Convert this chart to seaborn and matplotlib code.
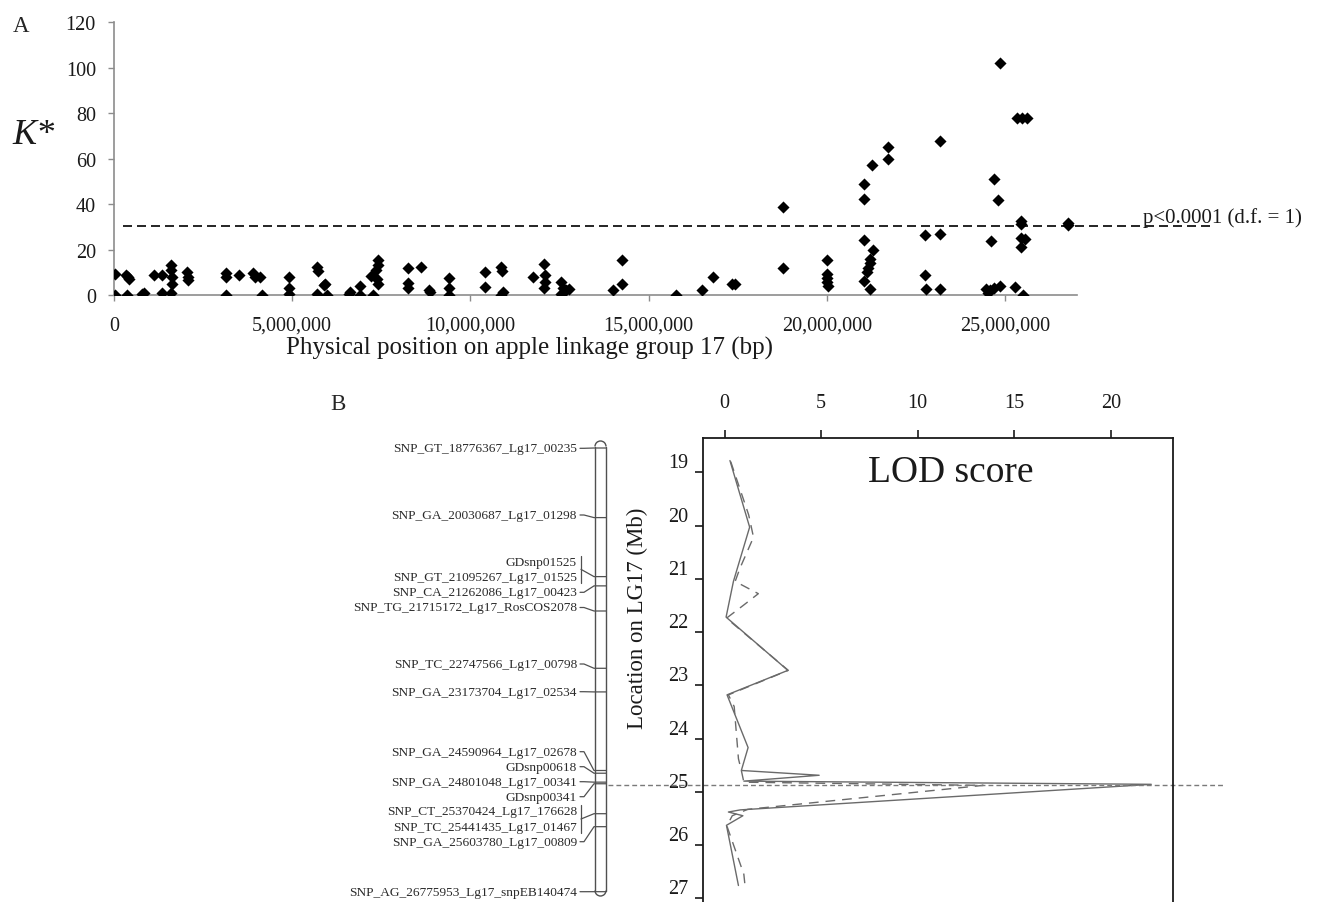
import matplotlib
matplotlib.use("Agg")
import matplotlib.pyplot as plt
from matplotlib.patches import Arc
import numpy as np
import seaborn as sns

# ---- Panel A: K* along linkage group 17 (position in Mb) ----
pos_mb = [
    0.03, 0.03,
    0.35, 0.40, 0.42, 0.37,
    0.78, 0.85,
    1.12, 1.35, 1.35,
    1.60, 1.60, 1.62, 1.64, 1.60,
    2.05, 2.07, 2.07,
    3.14, 3.14, 3.14,
    3.50, 3.90, 3.95, 4.10, 4.16,
    4.90, 4.90, 4.90,
    5.70, 5.72, 5.70,
    5.88, 5.93, 5.98,
    6.58, 6.62,
    6.90, 6.90,
    7.20, 7.28, 7.35, 7.40, 7.40, 7.38, 7.42,
    8.24, 8.24, 8.24, 8.60, 8.83, 8.88,
    9.40, 9.40, 9.40,
    10.40, 10.40,
    10.86, 10.90, 10.92, 10.86,
    11.76,
    12.06, 12.10, 12.08, 12.06,
    12.55, 12.55, 12.60, 12.67, 12.76,
    14.00, 14.26, 14.26,
    15.76, 16.50, 16.80, 17.35, 17.42,
    18.78, 18.78,
    20.00, 20.00, 20.00, 20.00, 20.02,
    21.04, 21.04, 21.26, 21.04, 21.30, 21.22, 21.22, 21.16, 21.12, 21.04, 21.22,
    21.73, 21.71,
    22.75, 22.75, 22.78,
    23.18, 23.18, 23.18,
    24.48, 24.52, 24.60, 24.58, 24.68, 24.86, 24.70, 24.79, 24.86,
    25.28, 25.35, 25.47, 25.61,
    25.44, 25.44, 25.44, 25.44, 25.57, 25.50,
    26.78, 26.78,
]
kstar = [
    9.2, 0,
    9, 8, 7, 0,
    0.5, 0.8,
    9, 9, 1,
    13, 11, 8, 5, 1,
    10, 8, 6.6,
    9.7, 8, 0,
    9, 9.7, 8, 8, 0,
    8, 3, 0.5,
    12.4, 10.6, 0.5,
    4.5, 5, 0,
    0.5, 1.5,
    4, 0,
    8.5, 0, 11, 13, 15.2, 7, 5,
    12, 5.4, 3, 12.4, 2, 1.5,
    7.5, 3, 0,
    10, 3.3,
    12.3, 10.5, 1.5, 0,
    8,
    13.5, 9, 5.5, 3,
    5.5, 0.5, 3, 2, 2.5,
    2, 15.5, 4.8,
    0, 2, 7.7, 5, 4.7,
    38.9, 12,
    15.5, 9.4, 7.5, 5.7, 4,
    48.9, 42.3, 57, 24, 19.6, 16, 14, 12, 10, 6, 2.5,
    65, 60,
    26.4, 8.8, 2.6,
    67.5, 27, 2.6,
    2.5, 1, 23.8, 2, 3, 4, 51, 41.6, 101.8,
    3.5, 77.8, 77.8, 77.8,
    32.5, 31, 21.3, 25, 24.5, 0,
    30.8, 31.5,
]
kstar_threshold = 30.4
xticks_bp = [0, 5000000, 10000000, 15000000, 20000000, 25000000]

# ---- Panel B: LOD profiles (LOD vs location in Mb) ----
lod_solid = [0.28, 1.3, 0.46, 0.08, 3.28, 0.13, 1.22, 0.87, 4.9, 1.0, 22.1, 0.82, 0.2, 0.95, 0.1, 0.72]
mb_solid = [18.78, 20.03, 21.05, 21.72, 22.72, 23.18, 24.17, 24.60, 24.69, 24.80, 24.86, 25.34, 25.38, 25.45, 25.63, 26.76]
lod_dash = [0.32, 1.25, 1.5, 0.8, 0.55, 1.75, 0.97, 0.1, 3.3, 0.2, 0.5, 0.72, 0.87, 1.0, 13.4, 1.2, 0.4, 0.12, 1.0, 1.06]
mb_dash = [18.80, 19.80, 20.22, 20.80, 21.05, 21.28, 21.50, 21.74, 22.72, 23.18, 23.40, 24.38, 24.60, 24.82, 24.88, 25.33, 25.45, 25.64, 26.55, 26.76]
qtl_peak_mb = 24.88

markers = [
    "SNP_GT_18776367_Lg17_00235", "SNP_GA_20030687_Lg17_01298", "GDsnp01525",
    "SNP_GT_21095267_Lg17_01525", "SNP_CA_21262086_Lg17_00423",
    "SNP_TG_21715172_Lg17_RosCOS2078", "SNP_TC_22747566_Lg17_00798",
    "SNP_GA_23173704_Lg17_02534", "SNP_GA_24590964_Lg17_02678", "GDsnp00618",
    "SNP_GA_24801048_Lg17_00341", "GDsnp00341", "SNP_CT_25370424_Lg17_176628",
    "SNP_TC_25441435_Lg17_01467", "SNP_GA_25603780_Lg17_00809",
    "SNP_AG_26775953_Lg17_snpEB140474",
]
marker_mb = [18.776, 20.031, 21.095, 21.095, 21.262, 21.715, 22.748, 23.174,
             24.591, 24.64, 24.801, 24.83, 25.370, 25.441, 25.604, 26.776]
bracket_groups = [(2, 3), (12, 13)]
# label heights on the map (pixels of the original figure)
label_px = [449.3, 516, 562.7, 578, 593.3, 608.5, 665, 692.7, 752.7, 767.7,
            782.7, 797.7, 812.3, 827.7, 842.7, 892.7]

W, H = 1338, 903
def fx(px):
    return px / W
def fy(py):
    return 1 - py / H

sns.set_style("ticks")
plt.rcParams["font.family"] = ["Liberation Serif", "DejaVu Serif"]

fig = plt.figure(figsize=(W / 100, H / 100), dpi=100)

# ---------------- Panel A ----------------
axA = fig.add_axes([fx(114), fy(296), (1077 - 114) / W, (296 - 23) / H])
sns.scatterplot(x=np.array(pos_mb) * 1e6, y=kstar, marker="D", s=38,
                color="black", linewidth=0, ax=axA, zorder=3)
axA.set_xlim(0, 27.02e6)
axA.set_ylim(0, 120)
axA.set_xticks(xticks_bp)
axA.set_xticklabels([f"{v:,}" for v in xticks_bp])
axA.set_yticks(range(0, 121, 20))
for side in ["top", "right"]:
    axA.spines[side].set_visible(False)
for side in ["left", "bottom"]:
    axA.spines[side].set_color("#8c8c8c")
    axA.spines[side].set_linewidth(1.2)
axA.tick_params(axis="both", colors="#8c8c8c", labelcolor="#1a1a1a",
                length=4, width=1, labelsize=14.5)
axA.tick_params(axis="y", pad=9)
axA.tick_params(axis="x", pad=11)
axA.set_xlabel("")
axA.set_ylabel("")
axA.plot([0.24e6, 30.8e6], [kstar_threshold] * 2, color="black", lw=1.2,
         ls=(0, (5.4, 3)), clip_on=False)
fig.text(fx(1143), fy(223), "p<0.0001 (d.f. = 1)", fontsize=15,
         ha="left", va="baseline", color="#1a1a1a")
fig.text(fx(530), fy(348), "Physical position on apple linkage group 17 (bp)",
         fontsize=18, ha="center", va="center", color="#1a1a1a")
fig.text(fx(34), fy(135), "K*", fontsize=26, style="italic",
         ha="center", va="center", color="#1a1a1a")
fig.text(fx(21), fy(26), "A", fontsize=16.5, ha="center", va="center")

# ---------------- Panel B: LOD plot ----------------
axL = fig.add_axes([fx(703.3), 0, (1172.5 - 703.3) / W, (903 - 439.3) / H])
sns.lineplot(x=lod_solid, y=mb_solid, sort=False, estimator=None,
             color="#6a6a6a", lw=1.0, ax=axL)
sns.lineplot(x=lod_dash, y=mb_dash, sort=False, estimator=None,
             color="#6a6a6a", lw=1.0, linestyle=(0, (7, 5)), ax=axL)
axL.set_xlim(-1.1, 23.2)
axL.set_ylim(27.07, 18.362)
axL.xaxis.tick_top()
axL.set_xticks([0, 5, 10, 15, 20])
axL.set_yticks(range(19, 28))
axL.spines["bottom"].set_visible(False)
for side in ["top", "left", "right"]:
    axL.spines[side].set_color("#1a1a1a")
    axL.spines[side].set_linewidth(1.3)
axL.tick_params(axis="x", top=True, bottom=False, length=6, width=1.2,
                pad=13, labelsize=14.5, colors="#1a1a1a")
axL.tick_params(axis="y", length=6, width=1.2, pad=5, labelsize=14.5,
                colors="#1a1a1a")
for lbl in axL.get_yticklabels():
    lbl.set_va("bottom")
axL.set_xlabel("")
axL.set_ylabel("")
axL.plot([-6.04, 25.93], [qtl_peak_mb] * 2, color="#7a7a7a", lw=1.0,
         ls=(0, (3.5, 2.2)), clip_on=False)
fig.text(fx(951), fy(473), "LOD score", fontsize=27, ha="center", va="center",
         color="#1a1a1a")
fig.text(fx(637), fy(618), "Location on LG17 (Mb)", fontsize=16.5,
         rotation=90, ha="center", va="center", color="#1a1a1a")
fig.text(fx(338), fy(405), "B", fontsize=16.5, ha="center", va="center")

# ---------------- Panel B: chromosome map ----------------
def map_mb(px):
    return 18.776 + (px - 449) / 55.46

axC = fig.add_axes([fx(380), 0, (612 - 380) / W, (903 - 440) / H])
axC.set_xlim(380, 612)
axC.set_ylim(map_mb(903), map_mb(440))
axC.axis("off")
chrom_col = "#505050"
top_c, bot_c = map_mb(447.5), map_mb(891.5)
axC.plot([595, 595], [top_c, bot_c], color=chrom_col, lw=1)
axC.plot([606, 606], [top_c, bot_c], color=chrom_col, lw=1)
cap_h = 11 / 55.46
axC.add_patch(Arc((600.5, top_c), 11, cap_h, theta1=180, theta2=360,
                  color=chrom_col, lw=1))
axC.add_patch(Arc((600.5, bot_c), 11, cap_h, theta1=0, theta2=180,
                  color=chrom_col, lw=1))

in_group = {i for g in bracket_groups for i in g}
for name, px in zip(markers, label_px):
    axC.text(577, map_mb(px), name, fontsize=9.6, ha="right", va="center",
             color="#2a2a2a")
for i, (px, mb) in enumerate(zip(label_px, marker_mb)):
    if i in in_group:
        continue
    ly = map_mb(px)
    axC.plot([580, 584, 594, 606], [ly, ly, mb, mb], color=chrom_col, lw=0.9)
for a, b in bracket_groups:
    y1, y2 = map_mb(label_px[a] - 6), map_mb(label_px[b] + 6)
    mid = (y1 + y2) / 2
    axC.plot([581, 581], [y1, y2], color=chrom_col, lw=0.9)
    axC.plot([581, 594, 606], [mid, marker_mb[a], marker_mb[a]],
             color=chrom_col, lw=0.9)

fig.savefig("out.png", dpi=100)
